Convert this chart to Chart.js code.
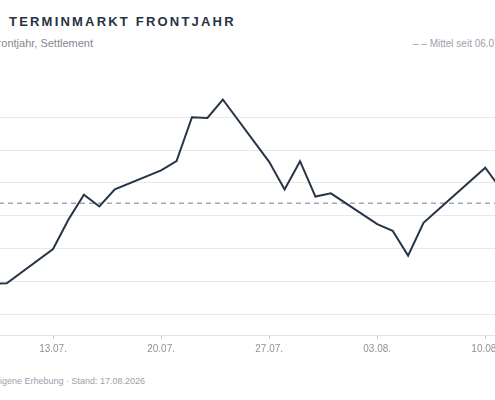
<!DOCTYPE html>
<html lang="de">
<head>
<meta charset="utf-8">
<title>Terminmarkt Frontjahr</title>
<script src="https://cdn.jsdelivr.net/npm/chart.js@4.4.1/dist/chart.umd.min.js"></script>
<style>
  html, body { margin: 0; padding: 0; background: #fff; }
  body { position: relative; width: 495px; height: 400px; overflow: hidden;
         font-family: "Liberation Sans", Arial, sans-serif; }
  .title  { position: absolute; left: 9px; top: 15px; font-size: 13px; font-weight: 700;
            letter-spacing: 2.2px; color: #263241; white-space: nowrap; line-height: 1; }
  .sub    { position: absolute; right: 402px; top: 38px; font-size: 11px; color: #7f8792;
            white-space: nowrap; line-height: 1; }
  .legend { position: absolute; left: 413px; top: 39px; font-size: 10px; color: #9aa1ab;
            white-space: nowrap; line-height: 1; }
  .foot   { position: absolute; right: 350px; top: 377px; font-size: 9px; color: #9aa1ab;
            white-space: nowrap; line-height: 1; }
  #chartWrap { position: absolute; left: -110px; top: 91px; width: 657px; height: 274px; }
</style>
</head>
<body>
<div class="title">TERMINMARKT FRONTJAHR</div>
<div class="sub">Frontjahr, Settlement</div>
<div class="legend">– – Mittel seit 06.07.</div>
<div class="foot">eigene Erhebung · Stand: 17.08.2026</div>
<div id="chartWrap"><canvas id="chart"></canvas></div>

<script>
// Settlement-Tage (nur Handelstage) und Preise in €/MWh
const DATES = [
  '06.07.', '07.07.', '08.07.', '09.07.', '10.07.',
  '13.07.', '14.07.', '15.07.', '16.07.', '17.07.',
  '20.07.', '21.07.', '22.07.', '23.07.', '24.07.',
  '27.07.', '28.07.', '29.07.', '30.07.', '31.07.',
  '03.08.', '04.08.', '05.08.', '06.08.', '07.08.',
  '10.08.', '11.08.', '12.08.', '13.08.', '14.08.'
];
const PRICES = [
  77.2, 75.8, 76.4, 74.6, 74.7,
  79.9, 84.4, 88.2, 86.4, 89.0,
  91.9, 93.3, 100.0, 99.9, 102.7,
  93.2, 89.0, 93.3, 87.9, 88.4,
  83.7, 82.7, 78.9, 83.9, 86.0,
  92.3, 89.1, 88.3, 90.1, 88.7
];
const MEAN = 86.9;          // Mittel seit 06.07.
const YEAR = 2026;
const Y_MIN = 66.8, Y_MAX = 104, Y_STEP = 5;
const X_SPAN = 39;          // Tage 06.07. – 14.08.

const start = new Date(YEAR, 6, 6);
const dayIndex = s => {
  const [d, m] = s.split('.').map(Number);
  return Math.round((new Date(YEAR, m - 1, d) - start) / 86400000);
};
const fmtDay = v => {
  const dt = new Date(YEAR, 6, 6 + v);
  return String(dt.getDate()).padStart(2, '0') + '.' + String(dt.getMonth() + 1).padStart(2, '0') + '.';
};

const pricePts = DATES.map((d, i) => ({ x: dayIndex(d), y: PRICES[i] }));
const meanPts  = [{ x: 0, y: MEAN }, { x: X_SPAN, y: MEAN }];

new Chart(document.getElementById('chart').getContext('2d'), {
  type: 'line',
  data: {
    datasets: [
      {
        label: 'Frontjahr',
        data: pricePts,
        borderColor: '#253447',
        borderWidth: 2,
        pointRadius: 0,
        tension: 0,
        order: 0,
      },
      {
        label: 'Mittel',
        data: meanPts,
        borderColor: '#a4a9b1',
        borderWidth: 1.5,
        borderDash: [5, 4],
        pointRadius: 0,
        order: 1,
      }
    ]
  },
  options: {
    responsive: true,
    maintainAspectRatio: false,
    animation: false,
    devicePixelRatio: 1,
    layout: { padding: 0 },
    plugins: { legend: { display: false }, tooltip: { enabled: false } },
    scales: {
      x: {
        type: 'linear',
        min: 0, max: X_SPAN,
        grid: { drawOnChartArea: false, drawTicks: true, tickLength: 4, color: '#c8ccd2' },
        border: { display: true, color: '#e2e4e8' },
        ticks: {
          stepSize: 7, includeBounds: false, padding: 4,
          color: '#8c929b', font: { size: 10, family: '"Liberation Sans", Arial, sans-serif' },
          maxRotation: 0,
          callback: v => fmtDay(v),
        },
        afterFit: s => { s.height = 30; s.paddingLeft = 0; s.paddingRight = 0; },
      },
      y: {
        min: Y_MIN, max: Y_MAX,
        grid: { color: '#e6e8eb', drawTicks: false },
        border: { display: false },
        ticks: {
          stepSize: Y_STEP, includeBounds: false, padding: 8,
          color: '#8c929b', font: { size: 10, family: '"Liberation Sans", Arial, sans-serif' },
        },
        afterFit: s => { s.width = 55; s.paddingTop = 0; s.paddingBottom = 0; },
      }
    }
  }
});
</script>
</body>
</html>
